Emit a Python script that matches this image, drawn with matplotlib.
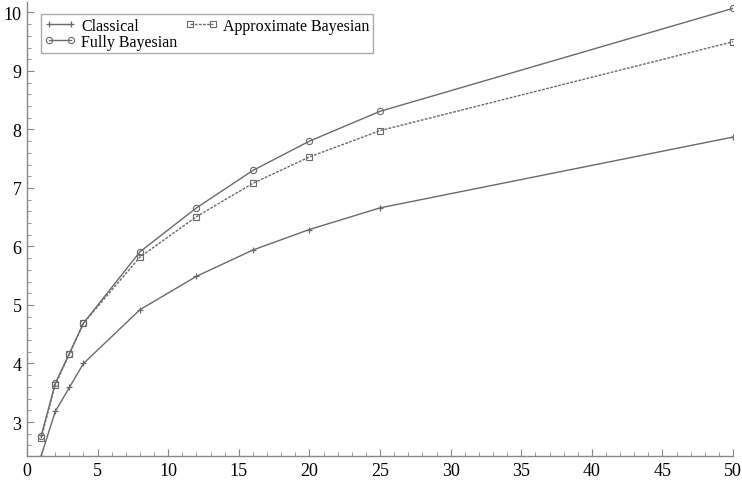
import matplotlib
matplotlib.use("Agg")
import matplotlib.pyplot as plt
from matplotlib.ticker import MultipleLocator

# --- data ---
x = [1, 2, 3, 4, 8, 12, 16, 20, 25, 50]
classical = [2.42, 3.18, 3.59, 4.00, 4.92, 5.49, 5.94, 6.29, 6.66, 7.87]
fully_bayes = [2.76, 3.66, 4.17, 4.69, 5.91, 6.66, 7.30, 7.80, 8.31, 10.07]
approx_bayes = [2.72, 3.64, 4.16, 4.69, 5.82, 6.51, 7.08, 7.53, 7.98, 9.50]

plt.rcParams['font.family'] = ['Liberation Serif', 'DejaVu Serif']
plt.rcParams['font.size'] = 12

gray = '#6a6a6a'

fig = plt.figure(figsize=(7.42, 4.81), dpi=100)
ax = fig.add_axes([0.0364, 0.05, 0.9516, 0.944])

ax.plot(x, classical, color=gray, lw=1.0, marker='+', ms=5, mew=0.9,
        label='Classical')
ax.plot(x, fully_bayes, color=gray, lw=1.0, marker='o', ms=4.5, mew=0.8,
        mfc='none', label='Fully Bayesian')
ax.plot(x, approx_bayes, color=gray, lw=1.0, ls=(0, (2, 1)), marker='s',
        ms=4.5, mew=0.8, mfc='none', label='Approximate Bayesian')

ax.set_xlim(0, 50)
ax.set_ylim(2.42, 10.18)
ax.xaxis.set_major_locator(MultipleLocator(5))
ax.xaxis.set_minor_locator(MultipleLocator(1))
ax.yaxis.set_major_locator(MultipleLocator(1))
ax.yaxis.set_minor_locator(MultipleLocator(0.2))
ax.set_yticks([3, 4, 5, 6, 7, 8, 9, 10])

for s in ['top', 'right']:
    ax.spines[s].set_visible(False)
for s in ['left', 'bottom']:
    ax.spines[s].set_color('#888888')
    ax.spines[s].set_linewidth(1.0)

ax.tick_params(which='major', direction='in', length=5, color='#888888',
               labelsize=13, pad=4)
ax.tick_params(which='minor', direction='in', length=3, color='#888888')

leg = ax.legend(loc='upper left', ncol=2, fancybox=False, framealpha=1,
                edgecolor='#aaaaaa', fontsize=11.5, borderpad=0.2,
                labelspacing=0.0, handlelength=2.0, handletextpad=0.35,
                columnspacing=0.5, numpoints=2,
                bbox_to_anchor=(0.008, 0.99))
leg.get_frame().set_linewidth(1.0)

fig.savefig('out.png', dpi=100)
